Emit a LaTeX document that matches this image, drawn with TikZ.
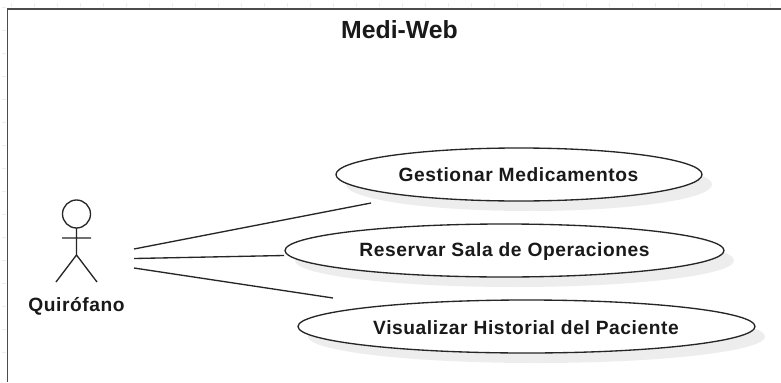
\documentclass[tikz,border=0pt]{standalone}
\usepackage{fontspec}
\setmainfont{Liberation Sans}
\newcommand{\usecasefont}{\fontsize{14.4}{17}\selectfont\addfontfeatures{LetterSpace=3}\bfseries}
\tikzset{
  x=0.75pt,y=-0.75pt,
  usecase/.style={draw=black!85,line width=1pt,fill=white},
  link/.style={draw=black!85,line width=1pt},
  stick/.style={draw=black!85,line width=1pt},
  rulertick/.style={draw=black!7,line width=0.5pt},
  shadowfill/.style={fill=black!7,draw=none},
  label/.style={inner sep=0pt,text=black!90,font=\usecasefont}
}
\begin{document}
\begin{tikzpicture}
\useasboundingbox (0,0) rectangle (781,382);
\fill[white] (0,0) rectangle (781,382);
% faint ruler ticks outside the frame
\foreach \k in {0,...,33} {\draw[rulertick] (11+23*\k,3) -- (11+23*\k,7);}
\foreach \k in {0,...,15} {\draw[rulertick] (2,7+23*\k) -- (6,7+23*\k);}
% frame, open to the right and bottom
\draw[draw=black!70,line width=1.3pt] (7.5,382) -- (7.5,9) -- (781,9);
\node[inner sep=0pt,text=black!90,font=\fontsize{18.6}{22}\selectfont\bfseries] (title) at (399.5,30) {Medi-Web};
% shadows
\fill[shadowfill] (529,184.5) ellipse [x radius=183,y radius=26.5];
\fill[shadowfill] (514.5,260.5) ellipse [x radius=219.5,y radius=26.5];
\fill[shadowfill] (536.5,336.5) ellipse [x radius=228.5,y radius=26.5];
% use cases
\draw[usecase] (519,174.5) ellipse [x radius=183,y radius=26.5];
\draw[usecase] (504.5,250.5) ellipse [x radius=219.5,y radius=26.5];
\draw[usecase] (526.5,326.5) ellipse [x radius=228.5,y radius=26.5];
\node[label] (uc1) at (518.5,175) {Gestionar Medicamentos};
\node[label] (uc2) at (504.5,252) {Reservar Sala de Operaciones};
\node[label] (uc3) at (526,328) {Visualizar Historial del Paciente};
% actor
\draw[stick] (76.5,214) circle [radius=14];
\draw[stick] (76.5,228) -- (76.5,255) (62,238) -- (91,238) (56,282) -- (76.5,255) -- (97,282);
\node[label] (actor) at (76.5,306) {Quirófano};
% connectors
\coordinate (a1) at (134,249);
\coordinate (a2) at (134,258.5);
\coordinate (a3) at (134,268);
\coordinate (e1) at (371,203);
\coordinate (e2) at (284,255.5);
\coordinate (e3) at (333,298);
\draw[link] (a1) -- (e1);
\draw[link] (a2) -- (e2);
\draw[link] (a3) -- (e3);
\end{tikzpicture}
\end{document}
